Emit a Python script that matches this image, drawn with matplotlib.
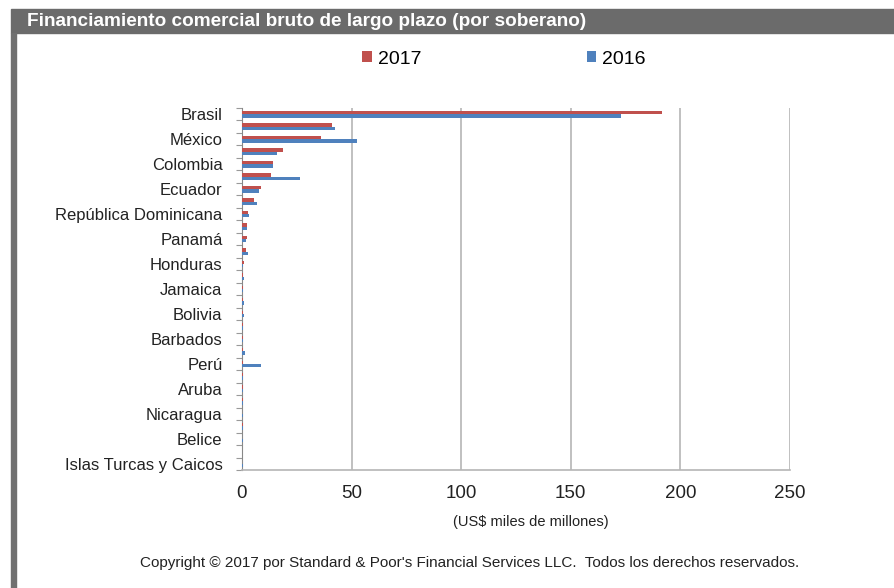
import numpy as np
import matplotlib.pyplot as plt
from matplotlib.patches import Rectangle

plt.rcParams['font.family'] = ['Liberation Sans', 'DejaVu Sans']

# etiquetas visibles (una de cada dos categorías)
shown_labels = ['Brasil', 'México', 'Colombia', 'Ecuador', 'República Dominicana',
                'Panamá', 'Honduras', 'Jamaica', 'Bolivia', 'Barbados', 'Perú',
                'Aruba', 'Nicaragua', 'Belice', 'Islas Turcas y Caicos']

# valores (US$ miles de millones), 29 soberanos
v2017 = [191.5, 40.9, 35.9, 18.6, 14.3, 13.1, 8.5, 5.5, 2.9, 2.3, 2.1, 1.6,
         0.8, 0.5, 0.6, 0.5, 0.5, 0.3, 0.4, 0.3, 0.5, 0.4, 0.3, 0.3, 0.2,
         0.3, 0.2, 0.2, 0.1]
v2016 = [173.0, 42.4, 52.3, 15.8, 14.3, 26.5, 7.9, 7.0, 3.2, 2.2, 1.8, 2.9,
         0.6, 0.8, 0.5, 0.8, 0.7, 0.6, 0.4, 1.2, 8.5, 0.5, 0.5, 0.4, 0.4,
         0.3, 0.3, 0.2, 0.3]

red = '#C0504D'
blue = '#4F81BD'

W, H = 895, 588
fig = plt.figure(figsize=(W / 100, H / 100), dpi=100)
fig.patch.set_facecolor('white')

# barra de título y borde izquierdo
fig.patches.append(Rectangle((11 / W, 1 - 33 / H), 1 - 11 / W, 24 / H,
                             transform=fig.transFigure, color='#6b6b6b', zorder=0))
fig.patches.append(Rectangle((11 / W, 0), 5 / W, 1 - 33 / H,
                             transform=fig.transFigure, color='#707070', zorder=0))
fig.text(27 / W, 1 - 21 / H, 'Financiamiento comercial bruto de largo plazo (por soberano)',
         color='white', fontsize=13.7, fontweight='bold', va='center', ha='left')

ax = fig.add_axes([242 / W, 1 - 470 / H, 548 / W, 362 / H])
n = len(v2017)
y = np.arange(n)
h = 0.27
ax.barh(y - h / 2, v2017, height=h, color=red, label='2017', zorder=3)
ax.barh(y + h / 2, v2016, height=h, color=blue, label='2016', zorder=3)

ax.set_xlim(0, 250)
ax.set_ylim(n - 0.5, -0.5)
ax.set_xticks([0, 50, 100, 150, 200, 250])
ax.tick_params(axis='x', length=0, labelsize=13.5, pad=11, colors='#222222')
ax.set_yticks(y[::2])
ax.set_yticklabels(shown_labels)
ax.tick_params(axis='y', which='major', length=0, labelsize=12, pad=14, colors='#222222')
ax.set_yticks(np.arange(n + 1) - 0.5, minor=True)
ax.tick_params(axis='y', which='minor', length=4, color='#999999', width=0.8)

ax.grid(axis='x', color='#b5b5b5', linewidth=1.2, zorder=0)
for s in ['top', 'right']:
    ax.spines[s].set_visible(False)
ax.spines['left'].set_color('#888888')
ax.spines['bottom'].set_color('#b5b5b5')
ax.spines['bottom'].set_linewidth(1.2)

fig.text(531 / W, 1 - 522 / H, '(US$ miles de millones)', fontsize=10.5,
         ha='center', va='center', color='#222222')

fig.legend(loc='center', bbox_to_anchor=(504 / W, 1 - 59 / H), ncol=2, frameon=False,
           fontsize=14, handlelength=0.5, handleheight=0.5, columnspacing=8.5,
           handletextpad=0.3)

fig.text(470 / W, 1 - 563 / H,
         'Copyright © 2017 por Standard & Poor\'s Financial Services LLC.  Todos los derechos reservados.',
         fontsize=11, ha='center', va='center', color='#222222')

fig.savefig('out.png', dpi=100)
